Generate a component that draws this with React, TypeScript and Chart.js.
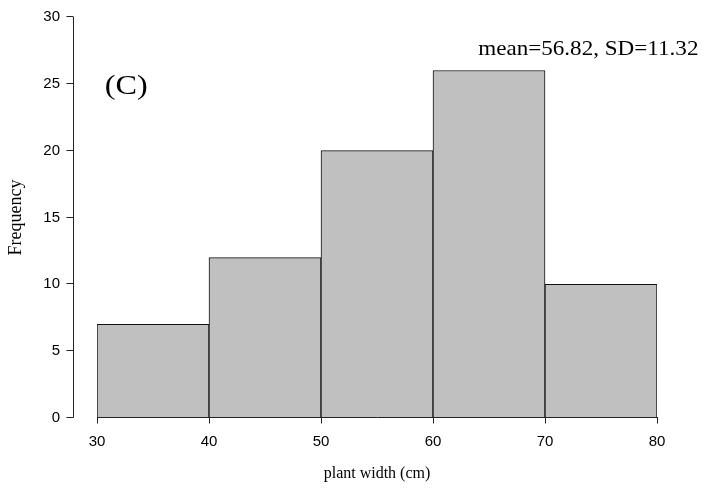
import React, { useEffect, useRef } from "react";
import { Chart, registerables } from "chart.js";

Chart.register(...registerables);

const binEdges = [30, 40, 50, 60, 70, 80];
const frequencies = [7, 12, 20, 26, 10];
const yTicks = [0, 5, 10, 15, 20, 25, 30];
const xTicks = [30, 40, 50, 60, 70, 80];
const panelLabel = "(C)";
const statsLabel = "mean=56.82, SD=11.32";
const xTitle = "plant width (cm)";
const yTitle = "Frequency";

const axesPlugin = {
  id: "rAxes",
  afterDraw(chart: any) {
    const { ctx, scales } = chart;
    const xs = scales.x;
    const ys = scales.y;
    ctx.save();
    ctx.strokeStyle = "#222";
    ctx.lineWidth = 1;
    const ax = Math.round(xs.getPixelForValue(xTicks[0]) - 24) + 0.5;
    const yTop = Math.round(ys.getPixelForValue(yTicks[yTicks.length - 1]));
    const yBot = Math.round(ys.getPixelForValue(yTicks[0]));
    ctx.beginPath();
    ctx.moveTo(ax, yTop);
    ctx.lineTo(ax, yBot - 0.5);
    for (const t of yTicks) {
      const py = Math.round(ys.getPixelForValue(t)) - 0.5;
      ctx.moveTo(ax, py);
      ctx.lineTo(ax - 7, py);
    }
    ctx.stroke();
    const ay = Math.round(ys.getPixelForValue(0)) - 0.5;
    const xL = Math.round(xs.getPixelForValue(xTicks[0]));
    const xR = Math.round(xs.getPixelForValue(xTicks[xTicks.length - 1]));
    ctx.beginPath();
    ctx.moveTo(xL, ay);
    ctx.lineTo(xR + 1, ay);
    for (const t of xTicks) {
      const px = Math.round(xs.getPixelForValue(t)) + 0.5;
      ctx.moveTo(px, ay);
      ctx.lineTo(px, ay + 6);
    }
    ctx.stroke();
    ctx.fillStyle = "#000";
    ctx.textBaseline = "middle";
    ctx.save();
    ctx.translate(xs.getPixelForValue(30.7), ys.getPixelForValue(24.8));
    ctx.scale(1.15, 1);
    ctx.font = "28px 'Liberation Serif'";
    ctx.textAlign = "left";
    ctx.fillText(panelLabel, 0, 0);
    ctx.restore();
    ctx.save();
    ctx.translate(xs.getPixelForValue(83.7), ys.getPixelForValue(27.6));
    ctx.scale(1.1, 1);
    ctx.font = "21px 'Liberation Serif'";
    ctx.textAlign = "right";
    ctx.fillText(statsLabel, 0, 0);
    ctx.restore();
    ctx.restore();
  },
};

export default function App() {
  const ref = useRef<HTMLCanvasElement | null>(null);
  useEffect(() => {
    document.body.style.margin = "0";
    const centers = frequencies.map((_, i) => (binEdges[i] + binEdges[i + 1]) / 2);
    const chart = new Chart(ref.current as HTMLCanvasElement, {
      type: "bar",
      data: {
        datasets: [
          {
            data: frequencies.map((f, i) => ({ x: centers[i], y: f })),
            backgroundColor: "#c0c0c0",
            borderColor: "#111",
            borderWidth: 1,
            barPercentage: 1,
            categoryPercentage: 1,
          },
        ],
      },
      options: {
        animation: false,
        responsive: false,
        layout: { padding: { top: 17, right: 48, left: 0, bottom: 0 } },
        plugins: { legend: { display: false }, tooltip: { enabled: false } },
        scales: {
          x: {
            type: "linear",
            min: xTicks[0],
            max: xTicks[xTicks.length - 1],
            offset: false,
            grid: {
              display: true,
              drawOnChartArea: false,
              drawTicks: true,
              tickLength: 12,
              tickColor: "rgba(0,0,0,0)",
              color: "rgba(0,0,0,0)",
              offset: false,
            },
            border: { display: false },
            ticks: {
              stepSize: 10,
              padding: 3,
              color: "#000",
              font: { family: "'Liberation Sans'", size: 15 },
              maxRotation: 0,
            },
            title: {
              display: true,
              text: xTitle,
              color: "#000",
              font: { family: "'Liberation Serif'", size: 16 },
              padding: { top: 0, bottom: 10 },
            },
            afterFit: (s: any) => {
              s.height = 75;
            },
          },
          y: {
            min: yTicks[0],
            max: yTicks[yTicks.length - 1],
            grid: {
              display: true,
              drawOnChartArea: false,
              drawTicks: true,
              tickLength: 33,
              tickColor: "rgba(0,0,0,0)",
              color: "rgba(0,0,0,0)",
            },
            border: { display: false },
            ticks: {
              stepSize: 5,
              padding: 4,
              color: "#000",
              font: { family: "'Liberation Sans'", size: 15 },
            },
            title: {
              display: true,
              text: yTitle,
              color: "#000",
              font: { family: "'Liberation Serif'", size: 18 },
              padding: { top: 5, bottom: 0 },
            },
            afterFit: (s: any) => {
              s.width = 97;
            },
          },
        },
      },
      plugins: [axesPlugin],
    });
    return () => chart.destroy();
  }, []);
  return <canvas ref={ref} width={705} height={493} style={{ display: "block" }} />;
}
